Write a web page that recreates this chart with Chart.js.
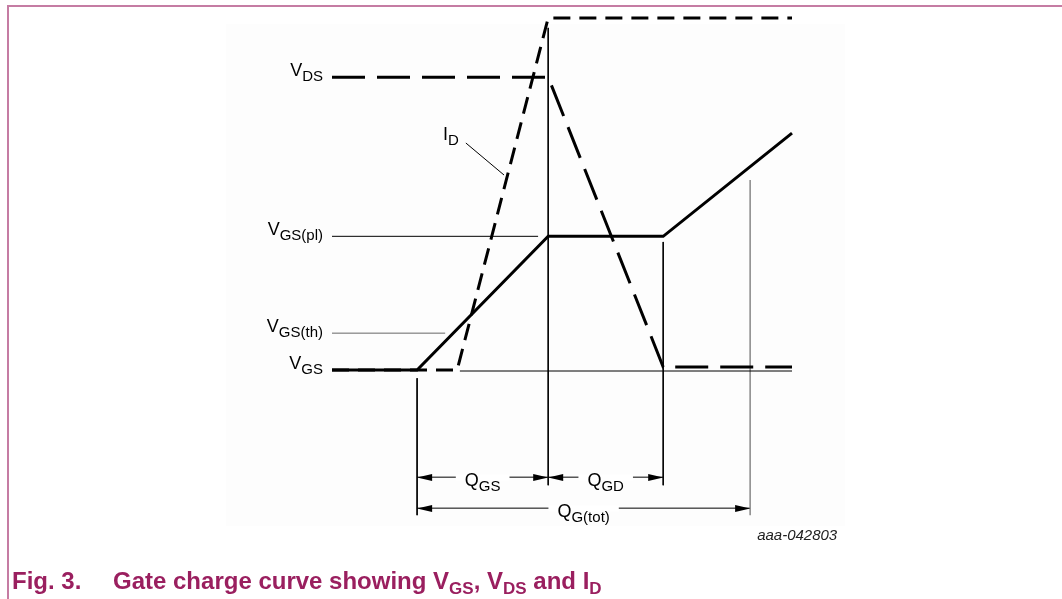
<!DOCTYPE html>
<html>
<head>
<meta charset="utf-8">
<title>Gate charge curve</title>
<script src="https://cdn.jsdelivr.net/npm/chart.js@4.4.1/dist/chart.umd.min.js"></script>
<style>
  html, body { margin: 0; padding: 0; background: #fff; overflow: hidden; }
  #frame { position: absolute; left: 7px; top: 5px; width: 1060px; height: 600px;
           border-top: 2px solid #c57ca3; border-left: 2px solid #c57ca3; }
  #panel { position: absolute; left: 226px; top: 24px; width: 619px; height: 502px; background: #fdfdfd; }
  #gateChart { position: absolute; left: 0; top: 0; }
  #caption { position: absolute; left: 12px; top: 567px; white-space: nowrap;
             font: bold 24px "Liberation Sans", Arial, sans-serif; color: #9a1f5f; }
  #caption .num { display: inline-block; width: 101px; }
  #caption sub { font-size: 17px; vertical-align: baseline; position: relative; top: 5px; }
</style>
</head>
<body>
<div id="frame"></div>
<div id="panel"></div>
<canvas id="gateChart" width="1062" height="599" style="width:1062px;height:599px"></canvas>
<div id="caption"><span class="num">Fig. 3.</span>Gate charge curve showing V<sub>GS</sub>, V<sub>DS</sub> and I<sub>D</sub></div>

<script>
// Gate charge on x (0..100, relative), levels on y (0..100 of full scale)
const vgsQ = [0, 18.5, 47, 72, 100];
const vgsV = [0, 0, 38, 38, 67.3];
const vdsQ = [0, 47, 72, 100];
const vdsV = [83.2, 83.2, 0.9, 0.9];
const idQ = [0, 27.2, 47, 100];
const idV = [0, 0, 100, 100];

// level names on the left
const levelMain = ['V', 'V', 'V', 'V'];
const levelSub = ['DS', 'GS(pl)', 'GS(th)', 'GS'];
const levelV = [83.2, 38, 10.5, 0];

// thin guide lines: plateau, threshold, VGS base
const guideFromQ = [0, 0, 27.8];
const guideToQ = [44.8, 24.6, 100];
const guideV = [38, 10.5, -0.25];
const guideColor = ['#000', '#666', '#000'];

// vertical charge markers
const markerQ = [18.5, 47, 72, 90.9];
const markerTop = [-2.3, 97.2, 36.4, 54];
const markerBottom = [-41.2, -32.7, -32.7, -41.2];
const markerColor = ['#000', '#000', '#000', '#888'];

// dimension arrows Q_GS, Q_GD, Q_G(tot)
const dimFromQ = [18.5, 47, 18.5];
const dimToQ = [47, 72, 90.9];
const dimRow = [-30.4, -30.4, -39.2];
const dimSub = ['GS', 'GD', 'G(tot)'];

// I_D leader line
const leaderQ = [29.1, 37.4];
const leaderV = [64.5, 55.4];

const FONT = '"Liberation Sans", Arial, sans-serif';
const MAIN_PX = 18, SUB_PX = 15;

function series(xs, ys, color, width, dash) {
    return {
        data: xs.map((x, i) => ({ x: x, y: ys[i] })),
        showLine: true,
        borderColor: color,
        borderWidth: width,
        borderDash: dash || [],
        borderCapStyle: 'butt',
        borderJoinStyle: 'miter',
        pointRadius: 0,
        tension: 0,
        fill: false,
        clip: false
    };
}

// curves first so they sit on top of the thin lines
const datasets = [
    series(vgsQ, vgsV, '#000', 3),
    series(idQ, idV, '#000', 3, [17, 9]),
    series(vdsQ, vdsV, '#000', 3, [33, 12])
];
guideV.forEach((v, i) => datasets.push(series([guideFromQ[i], guideToQ[i]], [v, v], guideColor[i], 1)));
markerQ.forEach((q, i) => datasets.push(series([q, q], [markerTop[i], markerBottom[i]], markerColor[i], i === 3 ? 1.5 : 1)));
dimRow.forEach((r, i) => datasets.push(series([dimFromQ[i], dimToQ[i]], [r, r], '#000', 1)));
datasets.push(series(leaderQ, leaderV, '#000', 1));

function textWidth(ctx, main, sub) {
    ctx.font = MAIN_PX + 'px ' + FONT;
    const wm = ctx.measureText(main).width;
    ctx.font = SUB_PX + 'px ' + FONT;
    return [wm, ctx.measureText(sub).width];
}

// main letter + subscript
function richText(ctx, main, sub, x, y, align) {
    const [wm, ws] = textWidth(ctx, main, sub);
    let x0 = x;
    if (align === 'right') x0 = x - wm - ws;
    if (align === 'center') x0 = x - (wm + ws) / 2;
    ctx.fillStyle = '#000';
    ctx.textAlign = 'left';
    ctx.textBaseline = 'alphabetic';
    ctx.font = MAIN_PX + 'px ' + FONT;
    ctx.fillText(main, x0, y);
    ctx.font = SUB_PX + 'px ' + FONT;
    ctx.fillText(sub, x0 + wm, y + 5);
}

function arrowHead(ctx, tipX, y, dir) {
    ctx.beginPath();
    ctx.moveTo(tipX, y);
    ctx.lineTo(tipX + dir * 15, y - 3.5);
    ctx.lineTo(tipX + dir * 15, y + 3.5);
    ctx.closePath();
    ctx.fill();
}

const annotations = {
    id: 'annotations',
    afterDatasetsDraw(chart) {
        const ctx = chart.ctx;
        const xs = chart.scales.x, ys = chart.scales.y;
        ctx.save();

        levelV.forEach((v, i) => {
            richText(ctx, levelMain[i], levelSub[i], xs.getPixelForValue(0) - 9, ys.getPixelForValue(v) - 1, 'right');
        });

        richText(ctx, 'I', 'D', xs.getPixelForValue(leaderQ[0]) - 7, ys.getPixelForValue(leaderV[0]) - 3, 'right');

        dimRow.forEach((r, i) => {
            const x1 = xs.getPixelForValue(dimFromQ[i]);
            const x2 = xs.getPixelForValue(dimToQ[i]);
            const y = Math.round(ys.getPixelForValue(r)) + 0.5;
            ctx.fillStyle = '#000';
            arrowHead(ctx, x1, y, 1);
            arrowHead(ctx, x2, y, -1);
            // clear a gap in the shaft for the label
            const [wm, ws] = textWidth(ctx, 'Q', dimSub[i]);
            const mid = (x1 + x2) / 2;
            ctx.fillStyle = '#fff';
            ctx.fillRect(mid - (wm + ws) / 2 - 9, y - 3, wm + ws + 18, 6);
            richText(ctx, 'Q', dimSub[i], mid, y + 8, 'center');
        });

        ctx.font = 'italic 15px ' + FONT;
        ctx.fillStyle = '#222';
        ctx.textAlign = 'left';
        ctx.fillText('aaa-042803', xs.getPixelForValue(markerQ[3]) + 7, 540);
        ctx.restore();
    }
};

new Chart(document.getElementById('gateChart'), {
    type: 'scatter',
    data: { datasets: datasets },
    options: {
        responsive: false,
        animation: false,
        devicePixelRatio: 1,
        events: [],
        layout: { padding: { left: 332, right: 270, top: 18, bottom: 0 } },
        plugins: { legend: { display: false }, tooltip: { enabled: false } },
        scales: {
            x: { type: 'linear', min: 0, max: 100, display: false },
            y: { type: 'linear', min: -65, max: 100, display: false }
        }
    },
    plugins: [annotations]
});
</script>
</body>
</html>
